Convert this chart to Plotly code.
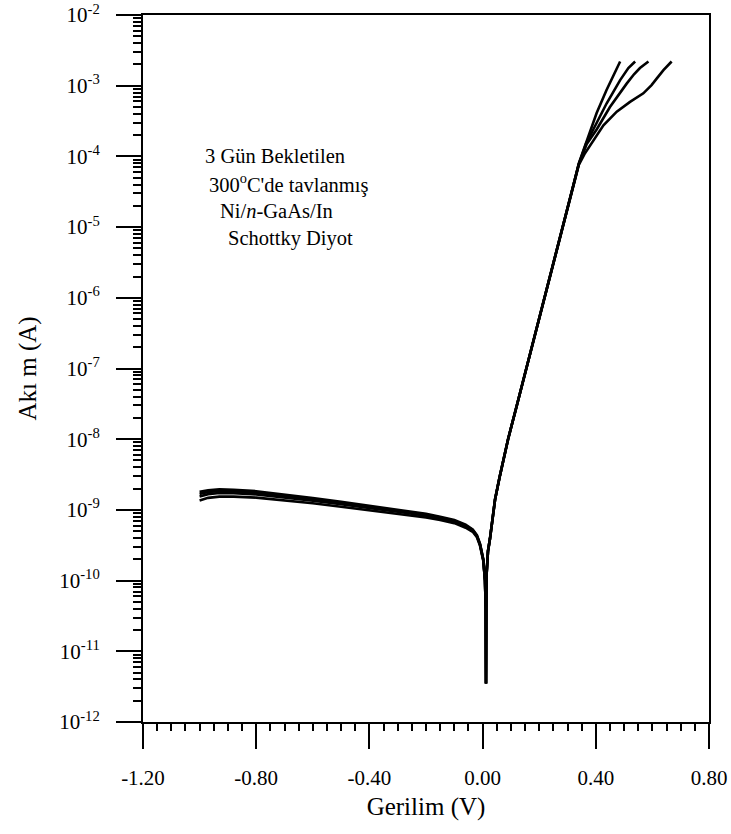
import plotly.graph_objects as go

# ---- I-V data: four sweeps of a Ni/n-GaAs/In Schottky diode ----
# Reverse-bias branch voltages (V), shared by the four sweeps
v_rev = [-1.00, -0.97, -0.93, -0.88, -0.80, -0.70, -0.60, -0.50, -0.40, -0.30,
         -0.20, -0.15, -0.10, -0.06, -0.035, -0.02, -0.009, 0.0025, 0.0085, 0.011]

# Reverse-bias current magnitudes (A)
i_rev_1 = [1.80e-9, 1.90e-9, 1.95e-9, 1.93e-9, 1.84e-9, 1.66e-9, 1.47e-9, 1.30e-9, 1.15e-9, 1.01e-9,
           8.8e-10, 8.0e-10, 7.2e-10, 6.2e-10, 5.3e-10, 4.4e-10, 3.3e-10, 2.0e-10, 1.0e-10, 4.0e-11]
i_rev_2 = [1.68e-9, 1.79e-9, 1.84e-9, 1.83e-9, 1.75e-9, 1.58e-9, 1.41e-9, 1.25e-9, 1.11e-9, 9.8e-10,
           8.6e-10, 7.8e-10, 7.0e-10, 6.0e-10, 5.2e-10, 4.3e-10, 3.25e-10, 1.98e-10, 1.0e-10, 4.0e-11]
i_rev_3 = [1.55e-9, 1.67e-9, 1.73e-9, 1.72e-9, 1.66e-9, 1.51e-9, 1.35e-9, 1.20e-9, 1.07e-9, 9.4e-10,
           8.3e-10, 7.6e-10, 6.8e-10, 5.85e-10, 5.1e-10, 4.2e-10, 3.2e-10, 1.95e-10, 1.0e-10, 4.0e-11]
i_rev_4 = [1.36e-9, 1.48e-9, 1.54e-9, 1.54e-9, 1.49e-9, 1.37e-9, 1.24e-9, 1.11e-9, 9.9e-10, 8.8e-10,
           7.8e-10, 7.2e-10, 6.5e-10, 5.6e-10, 4.9e-10, 4.1e-10, 3.1e-10, 1.9e-10, 1.0e-10, 4.0e-11]

# Forward-bias branch common to all sweeps (exponential region)
v_fwd = [0.012, 0.013, 0.014, 0.019, 0.026, 0.035, 0.044, 0.060, 0.090, 0.120,
         0.150, 0.200, 0.250, 0.300, 0.320]
i_fwd = [3.5e-12, 4.0e-11, 1.2e-10, 2.6e-10, 3.9e-10, 7.5e-10, 1.4e-9, 2.9e-9, 1.0e-8, 2.9e-8,
         8.4e-8, 5.1e-7, 3.1e-6, 1.86e-5, 3.8e-5]

# High-current tails (series-resistance region), one per sweep
v_tail_1 = [0.340, 0.368, 0.403, 0.438, 0.468, 0.486]
i_tail_1 = [8.0e-5, 1.7e-4, 4.1e-4, 8.7e-4, 1.58e-3, 2.2e-3]
v_tail_2 = [0.340, 0.365, 0.391, 0.415, 0.438, 0.462, 0.486, 0.515, 0.539]
i_tail_2 = [7.8e-5, 1.5e-4, 2.45e-4, 3.7e-4, 5.6e-4, 8.3e-4, 1.2e-3, 1.78e-3, 2.2e-3]
v_tail_3 = [0.340, 0.368, 0.403, 0.450, 0.480, 0.509, 0.535, 0.556, 0.586]
i_tail_3 = [7.8e-5, 1.5e-4, 2.4e-4, 5.0e-4, 7.4e-4, 1.07e-3, 1.45e-3, 1.78e-3, 2.2e-3]
v_tail_4 = [0.340, 0.360, 0.380, 0.427, 0.474, 0.521, 0.568, 0.597, 0.615, 0.639, 0.668]
i_tail_4 = [7.6e-5, 1.08e-4, 1.42e-4, 2.75e-4, 4.3e-4, 5.9e-4, 7.8e-4, 1.02e-3, 1.26e-3, 1.66e-3, 2.2e-3]

# Axis tick labels
x_ticks = [-1.20, -0.80, -0.40, 0.00, 0.40, 0.80]
x_tick_text = ["-1.20", "-0.80", "-0.40", "0.00", "0.40", "0.80"]
y_exponents = [-12, -11, -10, -9, -8, -7, -6, -5, -4, -3, -2]

# Text block inside the plot
note_lines = ["3 Gün Bekletilen", "300<sup>o</sup>C'de tavlanmış",
              "Ni/<i>n</i>-GaAs/In", "Schottky Diyot"]

FONT = "Liberation Serif"

fig = go.Figure()
sweeps = [
    (i_rev_1, v_tail_1, i_tail_1),
    (i_rev_2, v_tail_2, i_tail_2),
    (i_rev_3, v_tail_3, i_tail_3),
    (i_rev_4, v_tail_4, i_tail_4),
]
for i_rev, v_tail, i_tail in sweeps:
    fig.add_trace(go.Scatter(
        x=v_rev + v_fwd + v_tail,
        y=i_rev + i_fwd + i_tail,
        mode="lines",
        line=dict(color="black", width=2.6),
        showlegend=False,
        hoverinfo="skip",
    ))

# Plot-area geometry in pixels, used to place the text block
W, H = 731, 834
L, R, T, B = 143, 22, 15, 112
pw, ph = W - L - R, H - T - B

note_pos = [(203, 156), (207, 183), (218, 211), (226, 239)]
for text, (px, py) in zip(note_lines, note_pos):
    fig.add_annotation(
        text=text, x=(px - L) / pw, y=(H - B - py) / ph,
        xref="paper", yref="paper", xanchor="left", yanchor="middle",
        showarrow=False, font=dict(family=FONT, size=20.5, color="black"),
    )

minor_x = [round(-1.2 + 0.05 * k, 2) for k in range(41)]
minor_y = [m * 10.0 ** e for e in range(-12, -2) for m in range(2, 10)]

fig.update_layout(
    width=W, height=H,
    margin=dict(l=L, r=R, t=T, b=B, pad=0),
    paper_bgcolor="white", plot_bgcolor="white",
    font=dict(family=FONT, color="black"),
    xaxis=dict(
        range=[-1.2, 0.8], automargin=False,
        tickmode="array", tickvals=x_ticks, ticktext=x_tick_text,
        ticks="outside", ticklen=25, tickwidth=2, tickcolor="black",
        ticklabelstandoff=11,
        tickfont=dict(family=FONT, size=21, color="black"),
        minor=dict(tickmode="array", tickvals=minor_x, ticks="outside",
                   ticklen=7, tickwidth=1.6, tickcolor="black", showgrid=False),
        showline=True, linewidth=2, linecolor="black", mirror=True,
        showgrid=False, zeroline=False,
        title=dict(text="Gerilim (V)", font=dict(family=FONT, size=25, color="black"),
                   standoff=8),
    ),
    yaxis=dict(
        type="log", range=[-12, -2], automargin=False,
        tickmode="array",
        tickvals=[10.0 ** e for e in y_exponents],
        ticktext=[f"10<sup>{e}</sup>" for e in y_exponents],
        ticks="outside", ticklen=25, tickwidth=2, tickcolor="black",
        ticklabelstandoff=12,
        tickfont=dict(family=FONT, size=21, color="black"),
        minor=dict(tickmode="array", tickvals=minor_y, ticks="outside",
                   ticklen=8, tickwidth=1.6, tickcolor="black", showgrid=False),
        showline=True, linewidth=2, linecolor="black", mirror=True,
        showgrid=False, zeroline=False,
        title=dict(text="Akı m (A)", font=dict(family=FONT, size=25, color="black"),
                   standoff=15),
    ),
)

fig.write_html("out.html", config={"displayModeBar": False})
